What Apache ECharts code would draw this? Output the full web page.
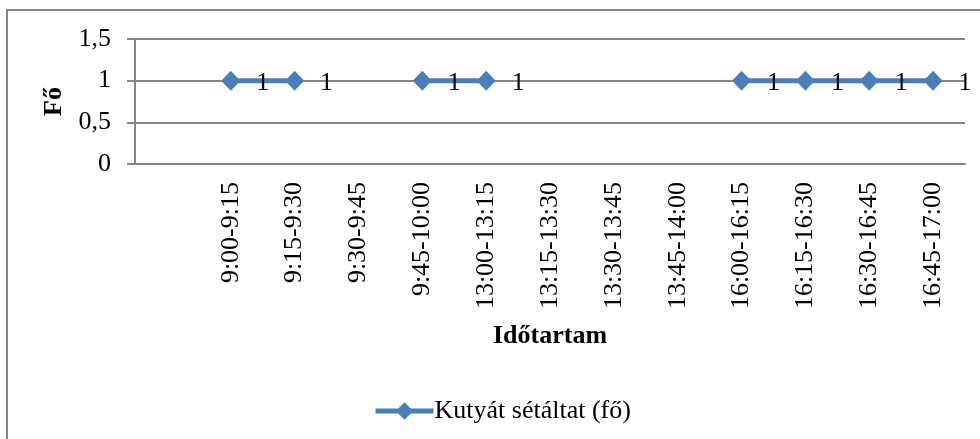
<!DOCTYPE html>
<html>
<head>
<meta charset="utf-8">
<script src="https://cdn.jsdelivr.net/npm/echarts@6/dist/echarts.min.js"></script>
<style>
  html, body { margin: 0; padding: 0; background: #fff; }
  #chart { width: 980px; height: 439px; }
</style>
</head>
<body>
<div id="chart"></div>
<script>
// időszakok (az első kategória üres, mint az eredetiben)
const categories = ['', '9:00-9:15', '9:15-9:30', '9:30-9:45', '9:45-10:00', '13:00-13:15',
  '13:15-13:30', '13:30-13:45', '13:45-14:00', '16:00-16:15', '16:15-16:30',
  '16:30-16:45', '16:45-17:00'];
const walkers = [null, 1, 1, null, 1, 1, null, null, null, 1, 1, 1, 1];
const seriesName = 'Kutyát sétáltat (fő)';

const FONT = '"Liberation Serif", "Times New Roman", serif';
const chart = echarts.init(document.getElementById('chart'));

chart.setOption({
  animation: false,
  textStyle: { fontFamily: FONT },
  graphic: [{
    type: 'rect',
    shape: { x: 7, y: 10, width: 1000, height: 500 },
    style: { fill: 'none', stroke: '#868686', lineWidth: 2 },
    silent: true
  }],
  grid: { left: 135, right: 15, top: 39, bottom: 275 },
  legend: {
    left: 368,
    top: 393,
    itemWidth: 58,
    itemHeight: 22,
    itemGap: 0,
    lineStyle: { width: 5 },
    textStyle: { fontFamily: FONT, fontSize: 26, color: '#000', padding: [0, 0, 0, -4] },
    data: [seriesName]
  },
  xAxis: {
    type: 'category',
    data: categories,
    boundaryGap: true,
    name: 'Időtartam',
    nameLocation: 'middle',
    nameGap: 159,
    nameTextStyle: { fontFamily: FONT, fontSize: 26, fontWeight: 'bold', color: '#000' },
    axisLine: { lineStyle: { color: '#868686', width: 2 } },
    axisTick: { show: false },
    axisLabel: { rotate: 90, interval: 0, fontSize: 26, color: '#000', fontFamily: FONT, margin: 18 },
    splitLine: { show: false }
  },
  yAxis: {
    type: 'value',
    min: 0,
    max: 1.5,
    interval: 0.5,
    name: 'Fő',
    nameLocation: 'middle',
    nameGap: 57,
    nameRotate: 90,
    nameTextStyle: { fontFamily: FONT, fontSize: 26, fontWeight: 'bold', color: '#000' },
    axisLine: { show: true, lineStyle: { color: '#868686', width: 2 } },
    axisTick: { show: true, length: 8, inside: false, lineStyle: { color: '#868686', width: 2 } },
    axisLabel: {
      fontSize: 26, color: '#000', fontFamily: FONT, margin: 24,
      formatter: v => String(v).replace('.', ',')
    },
    splitLine: { lineStyle: { color: '#868686', width: 2 } }
  },
  series: [{
    name: seriesName,
    type: 'line',
    data: walkers,
    connectNulls: false,
    symbol: 'diamond',
    symbolSize: [19, 20],
    showAllSymbol: true,
    lineStyle: { color: '#4A7EBB', width: 5 },
    itemStyle: { color: '#4A7EBB' },
    label: {
      show: true,
      position: 'right',
      distance: 16,
      fontSize: 26,
      color: '#000',
      fontFamily: FONT,
      offset: [0, 3]
    }
  }]
});
</script>
</body>
</html>
